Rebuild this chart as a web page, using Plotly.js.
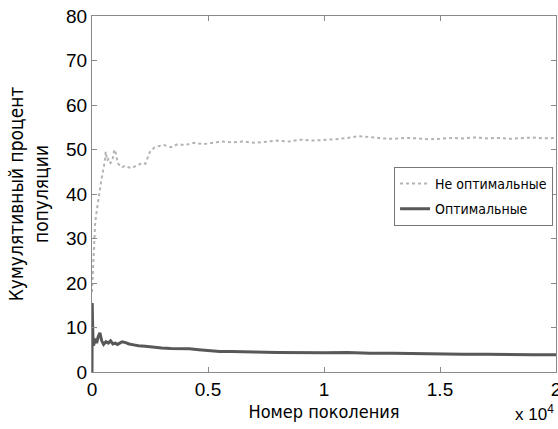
<!DOCTYPE html>
<html>
<head>
<meta charset="utf-8">
<script src="https://cdn.plot.ly/plotly-3.0.1.min.js"></script>
<style>html,body{margin:0;padding:0;background:#fff;}#chart{width:558px;height:429px;}</style>
</head>
<body>
<div id="chart"></div>
<script>
// Generations (x) and cumulative percent (y)
const nonOptGen = [0, 20, 40, 60, 80, 100, 130, 170, 220, 280, 340, 400, 470, 540, 590, 650, 720, 800, 880, 960, 1040, 1100, 1180, 1290, 1400, 1550, 1700, 1850, 2000, 2150, 2300, 2500, 2700, 2900, 3100, 3400, 3700, 4000, 4400, 4800, 5200, 5600, 6000, 6500, 7000, 7500, 8000, 8500, 9000, 9500, 10000, 10500, 11000, 11500, 12000, 12500, 13000, 13500, 14000, 14500, 15000, 15500, 16000, 16500, 17000, 17500, 18000, 18500, 19000, 19500, 20000];
const nonOptVal = [18, 21, 24, 27, 29, 31, 33, 35, 37, 39, 41, 43, 45, 47, 49.5, 47.5, 48, 47, 47.5, 50, 49, 47, 46.5, 46, 46.3, 46, 45.8, 46.2, 46.5, 47, 46.8, 49.5, 50.5, 50.8, 51, 50.5, 51.2, 51, 51.5, 51.2, 51.5, 51.8, 51.6, 51.8, 51.5, 51.7, 52, 51.8, 52.2, 52, 52.1, 52.3, 52.6, 53, 52.8, 52.5, 52.4, 52.6, 52.5, 52.3, 52.4, 52.6, 52.5, 52.7, 52.5, 52.6, 52.4, 52.6, 52.7, 52.5, 52.6];

const optGen = [0, 10, 20, 40, 60, 100, 150, 200, 260, 340, 420, 500, 600, 700, 800, 900, 1000, 1100, 1200, 1300, 1450, 1600, 1800, 2000, 2300, 2600, 3000, 3400, 3800, 4200, 4600, 5000, 5500, 6000, 6500, 7000, 8000, 9000, 10000, 11000, 12000, 13000, 14000, 15000, 16000, 17000, 18000, 19000, 20000];
const optVal = [0, 15.5, 12, 8, 6, 6.5, 7.5, 6.5, 7.8, 8.8, 7, 6.2, 6.8, 6.5, 7, 6.3, 6.5, 6.2, 6.6, 6.8, 6.6, 6.3, 6.1, 5.9, 5.8, 5.6, 5.4, 5.3, 5.3, 5.2, 5.0, 4.8, 4.6, 4.6, 4.5, 4.5, 4.4, 4.3, 4.3, 4.4, 4.2, 4.2, 4.1, 4.1, 4.0, 4.0, 3.9, 3.9, 3.9];

const seriesNames = ['Не оптимальные', 'Оптимальные'];
const xTickVals = [0, 5000, 10000, 15000, 20000];
const xTickText = ['0', '0.5', '1', '1.5', '2'];
const yTickVals = [0, 10, 20, 30, 40, 50, 60, 70, 80];

const narrow = '"DejaVu Sans Condensed", "Liberation Sans Narrow", Roboto, sans-serif';
const tickFont = {family: '"Liberation Sans", Arial, sans-serif', size: 19, color: '#000'};

const traces = [
  {x: nonOptGen, y: nonOptVal, name: seriesNames[0], mode: 'lines', legendgroup: 'a',
   line: {color: '#b3b3b3', width: 2, dash: 'dot'}},
  {x: optGen, y: optVal, name: seriesNames[1], mode: 'lines', legendgroup: 'b',
   line: {color: '#585858', width: 3}}
];

const axisCommon = {
  showgrid: false, zeroline: false, showline: true, linecolor: '#8a8a8a', linewidth: 1,
  mirror: 'ticks', ticks: 'inside', ticklen: 5, tickcolor: '#8a8a8a', tickfont: tickFont,
  automargin: false, ticklabeloverflow: 'allow'
};

const layout = {
  width: 558, height: 429,
  margin: {l: 92, r: 2, t: 16, b: 57, autoexpand: false},
  paper_bgcolor: '#fff', plot_bgcolor: '#fff',
  showlegend: true,
  legend: {x: 0.651, y: 0.576, xanchor: 'left', yanchor: 'top',
           bordercolor: '#777', borderwidth: 1, bgcolor: '#fff',
           font: {family: narrow, size: 14, color: '#000'}, itemwidth: 30,
           traceorder: 'grouped', tracegroupgap: 4},
  xaxis: Object.assign({}, axisCommon, {
    range: [0, 20000], tickvals: xTickVals, ticktext: xTickText,
    title: {text: 'Номер поколения', font: {family: narrow, size: 18, color: '#000'}, standoff: 6}
  }),
  yaxis: Object.assign({}, axisCommon, {
    range: [0, 80], tickvals: yTickVals,
    title: {text: 'Кумулятивный процент<br>популяции', font: {family: narrow, size: 19, color: '#000'}, standoff: 12}
  }),
  annotations: [{
    xref: 'paper', yref: 'paper', x: 1.0, y: -0.152, xanchor: 'right', yanchor: 'bottom',
    text: 'x 10<sup>4</sup>', showarrow: false,
    font: {family: '"Liberation Sans", Arial, sans-serif', size: 17, color: '#000'}
  }]
};

Plotly.newPlot('chart', traces, layout, {displayModeBar: false, staticPlot: true});
</script>
</body>
</html>
